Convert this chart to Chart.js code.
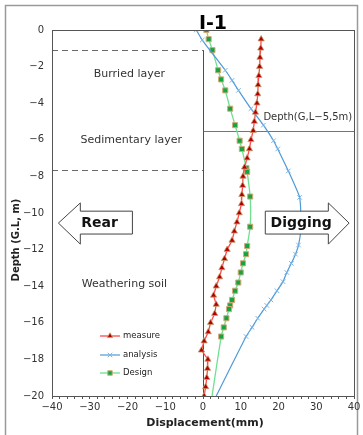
<!DOCTYPE html>
<html>
<head>
<meta charset="utf-8">
<script src="https://cdn.jsdelivr.net/npm/chart.js@4.4.1/dist/chart.umd.min.js"></script>
<style>
  html, body { margin: 0; padding: 0; background: #ffffff; }
  #wrap { width: 363px; height: 435px; }
</style>
</head>
<body>
<div id="wrap"><canvas id="c" width="363" height="435"></canvas></div>
<script>
// Inclinometer I-1: lateral displacement (mm) against depth below ground level (m)
const measureDepth = [-0.5, -1, -1.5, -2, -2.5, -3, -3.5, -4, -4.5, -5, -5.5, -6, -6.5, -7, -7.5, -8, -8.5, -9, -9.5, -10,
  -10.5, -11, -11.5, -12, -12.5, -13, -13.5, -14, -14.5, -15, -15.5, -16, -16.5, -17, -17.5, -18, -18.5, -19, -19.5, -20];
const measureDisp = [15.4, 15.3, 15.1, 15.0, 14.8, 14.6, 14.5, 14.3, 13.9, 13.6, 13.3, 12.7, 12.3, 11.7, 11.0, 10.6, 10.5, 10.3, 10.2, 9.6,
  9.0, 8.3, 7.7, 6.4, 5.7, 5.0, 4.4, 3.5, 2.8, 3.5, 3.1, 2.0, 1.4, 0.3, -0.4, 1.3, 1.2, 1.0, 0.7, 0.3];

const analysisDepth = [0, -0.55, -2.2, -2.75, -3.3, -4.3, -5.2, -6.05, -6.5, -7.7, -9.15, -10.75, -11.75, -12.25, -12.75,
  -13.25, -13.75, -14.25, -14.75, -15.05, -15.25, -15.75, -16.25, -16.75, -20];
const analysisDisp = [-1.8, -0.2, 5.9, 7.7, 9.4, 12.7, 16.0, 18.7, 19.8, 22.6, 25.6, 26.0, 25.3, 24.5, 23.4,
  22.2, 21.2, 19.6, 18.0, 16.9, 16.2, 14.5, 13.0, 11.4, 3.5];

const designDepth = [0, -0.5, -1.1, -2.2, -2.7, -3.3, -4.3, -5.2, -6.05, -6.5, -7.55, -7.75, -9.1, -10.75, -11.8,
  -12.25, -12.75, -13.25, -13.8, -14.25, -14.75, -15.05, -15.25, -15.75, -16.25, -16.75, -20];
const designDisp = [0.9, 1.5, 2.5, 4.0, 4.8, 5.9, 7.2, 8.5, 9.7, 10.3, 11.5, 11.7, 12.5, 12.5, 11.7,
  11.4, 10.6, 10.0, 9.35, 8.5, 7.7, 7.2, 6.9, 6.2, 5.5, 4.8, 2.4];

const xTicks = { min: -40, max: 40, major: 10, minor: 2 };
const yTicks = { min: -20, max: 0, step: 2 };

// Soil layer boundaries and reference depth (m)
const buriedBottom = -1.1;
const sedimentBottom = -7.65;
const excavationDepth = -5.5;

const layerLabels = [
  { text: 'Burried layer', x: -19.5, y: -2.4 },
  { text: 'Sedimentary layer', x: -19.0, y: -6.0 },
  { text: 'Weathering soil', x: -20.8, y: -13.9 }
];

const pts = (xs, ys) => xs.map((v, i) => ({ x: v, y: ys[i] }));
const minus = s => String(s).replace('-', '\u2212');

const lastHidden = r => ctx => (ctx.dataIndex === ctx.dataset.data.length - 1 ? 0 : r);

const datasets = [
  {
    label: 'measure',
    data: pts(measureDisp, measureDepth),
    borderColor: '#ff4a4a',
    borderWidth: 1.3,
    pointStyle: 'triangle',
    pointRadius: 3.6,
    pointBackgroundColor: '#b00000',
    pointBorderColor: '#c8a070',
    pointBorderWidth: 0.8,
    tension: 0
  },
  {
    label: 'analysis',
    data: pts(analysisDisp, analysisDepth),
    borderColor: '#4f9ad8',
    borderWidth: 1.2,
    pointStyle: 'crossRot',
    pointRadius: lastHidden(3.2),
    pointBorderColor: '#78b4e6',
    pointBorderWidth: 1,
    tension: 0.15
  },
  {
    label: 'Design',
    data: pts(designDisp, designDepth),
    borderColor: '#6fe08f',
    borderWidth: 1.3,
    pointStyle: 'rect',
    pointRadius: lastHidden(3.6),
    pointBackgroundColor: '#14a442',
    pointBorderColor: '#d4aa78',
    pointBorderWidth: 1,
    tension: 0.15
  }
];

const textFont = '"DejaVu Sans", sans-serif';

function drawBlockArrow(ctx, pts) {
  ctx.beginPath();
  ctx.moveTo(pts[0][0], pts[0][1]);
  for (let i = 1; i < pts.length; i++) ctx.lineTo(pts[i][0], pts[i][1]);
  ctx.closePath();
  ctx.fillStyle = '#ffffff';
  ctx.fill();
  ctx.lineWidth = 1;
  ctx.strokeStyle = '#444444';
  ctx.stroke();
}

const decor = {
  id: 'decor',
  beforeDraw(chart) {
    const ctx = chart.ctx;
    ctx.save();
    ctx.fillStyle = '#ffffff';
    ctx.fillRect(0, 0, chart.width, chart.height);
    ctx.strokeStyle = '#9a9a9a';
    ctx.lineWidth = 1.5;
    ctx.strokeRect(5.5, 5.5, 352, 432);
    ctx.restore();
  },
  beforeDatasetsDraw(chart) {
    const { ctx, scales: { x, y }, chartArea: a } = chart;
    ctx.save();
    // layer boundaries
    ctx.strokeStyle = '#6a6a6a';
    ctx.lineWidth = 1;
    ctx.setLineDash([6, 4]);
    [buriedBottom, sedimentBottom].forEach(d => {
      const py = Math.round(y.getPixelForValue(d)) + 0.5;
      ctx.beginPath();
      ctx.moveTo(x.getPixelForValue(-40), py);
      ctx.lineTo(x.getPixelForValue(0), py);
      ctx.stroke();
    });
    ctx.setLineDash([]);
    // wall line at zero displacement
    const px0 = Math.round(x.getPixelForValue(0)) + 0.5;
    ctx.strokeStyle = '#a02a2a';
    ctx.beginPath();
    ctx.moveTo(px0, y.getPixelForValue(buriedBottom));
    ctx.lineTo(px0, y.getPixelForValue(-20));
    ctx.stroke();
    // excavation level
    const pyE = Math.round(y.getPixelForValue(excavationDepth)) + 0.5;
    ctx.strokeStyle = '#ff3a3a';
    ctx.beginPath();
    ctx.moveTo(px0, pyE);
    ctx.lineTo(a.right, pyE);
    ctx.stroke();

    ctx.fillStyle = '#333333';
    ctx.font = '11px ' + textFont;
    ctx.textBaseline = 'middle';
    ctx.textAlign = 'center';
    layerLabels.forEach(l => ctx.fillText(l.text, x.getPixelForValue(l.x), y.getPixelForValue(l.y)));
    ctx.font = '10px ' + textFont;
    ctx.textAlign = 'left';
    ctx.fillText('Depth(G,L\u22125,5m)', x.getPixelForValue(16.0), y.getPixelForValue(-4.75));
    ctx.restore();
  },
  afterDatasetsDraw(chart) {
    const { ctx, scales: { x, y }, chartArea: a } = chart;
    ctx.save();
    // plot frame
    ctx.strokeStyle = '#555555';
    ctx.lineWidth = 1;
    ctx.strokeRect(Math.round(a.left) + 0.5, Math.round(a.top) + 0.5, Math.round(a.right - a.left), Math.round(a.bottom - a.top));

    // direction arrows
    const X = v => x.getPixelForValue(v), Y = v => y.getPixelForValue(v);
    const hT = Y(-9.45), hB = Y(-11.7), sT = Y(-9.9), sB = Y(-11.15), mid = Y(-10.55);
    drawBlockArrow(ctx, [[X(-38.3), mid], [X(-32.5), hT], [X(-32.5), sT], [X(-18.7), sT], [X(-18.7), sB], [X(-32.5), sB], [X(-32.5), hB]]);
    drawBlockArrow(ctx, [[X(38.7), mid], [X(33.2), hT], [X(33.2), sT], [X(16.5), sT], [X(16.5), sB], [X(33.2), sB], [X(33.2), hB]]);
    ctx.fillStyle = '#111111';
    ctx.font = 'bold 14px ' + textFont;
    ctx.textAlign = 'center';
    ctx.textBaseline = 'middle';
    ctx.fillText('Rear', X(-27.4), mid);
    ctx.fillText('Digging', X(26.0), mid);

    // legend
    ctx.font = '8.5px ' + textFont;
    ctx.textAlign = 'left';
    const rows = [336, 355, 373];
    chart.data.datasets.forEach((ds, i) => {
      const ly = rows[i];
      ctx.strokeStyle = ds.borderColor;
      ctx.lineWidth = ds.borderWidth;
      ctx.beginPath();
      ctx.moveTo(100, ly);
      ctx.lineTo(120, ly);
      ctx.stroke();
      ctx.fillStyle = ds.pointBackgroundColor || ds.pointBorderColor;
      ctx.strokeStyle = ds.pointBorderColor;
      ctx.lineWidth = ds.pointBorderWidth;
      Chart.helpers.drawPoint(ctx, { pointStyle: ds.pointStyle, radius: 3.2, borderWidth: ds.pointBorderWidth, rotation: 0 }, 110, ly);
      ctx.fillStyle = '#222222';
      ctx.fillText(ds.label, 123, ly);
    });

    // title
    ctx.font = 'bold 19px ' + textFont;
    ctx.textAlign = 'center';
    ctx.fillStyle = '#000000';
    ctx.fillText('I-1', 213, 24);

    // axis titles
    ctx.font = 'bold 11px ' + textFont;
    ctx.fillStyle = '#222222';
    ctx.fillText('Displacement(mm)', 205, 423);
    ctx.save();
    ctx.translate(16, 240);
    ctx.rotate(-Math.PI / 2);
    ctx.font = 'bold 10px ' + textFont;
    ctx.fillText('Depth (G.L, m)', 0, 0);
    ctx.restore();
    ctx.restore();
  }
};

new Chart(document.getElementById('c'), {
  type: 'scatter',
  data: { datasets },
  options: {
    responsive: false,
    animation: false,
    showLine: true,
    layout: { padding: { left: 0, top: 30, right: 9, bottom: 0 } },
    plugins: { legend: { display: false }, tooltip: { enabled: false } },
    scales: {
      x: {
        type: 'linear',
        min: xTicks.min,
        max: xTicks.max,
        afterFit: s => { s.height = 39; },
        afterBuildTicks: s => {
          const t = [];
          for (let v = xTicks.min; v <= xTicks.max; v += xTicks.minor) t.push({ value: v });
          s.ticks = t;
        },
        ticks: {
          autoSkip: false,
          maxRotation: 0,
          padding: 2,
          color: '#333333',
          font: { family: textFont, size: 10 },
          callback: v => (v % xTicks.major === 0 ? minus(v) : '')
        },
        grid: { drawOnChartArea: false, drawTicks: true, tickLength: 3, color: '#555555' },
        border: { color: '#555555' }
      },
      y: {
        type: 'linear',
        min: yTicks.min,
        max: yTicks.max,
        afterFit: s => { s.width = 52; },
        ticks: {
          stepSize: yTicks.step,
          padding: 8,
          color: '#333333',
          font: { family: textFont, size: 10 },
          callback: v => minus(v)
        },
        grid: { display: false, drawTicks: false },
        border: { color: '#555555' }
      }
    }
  },
  plugins: [decor]
});
</script>
</body>
</html>
